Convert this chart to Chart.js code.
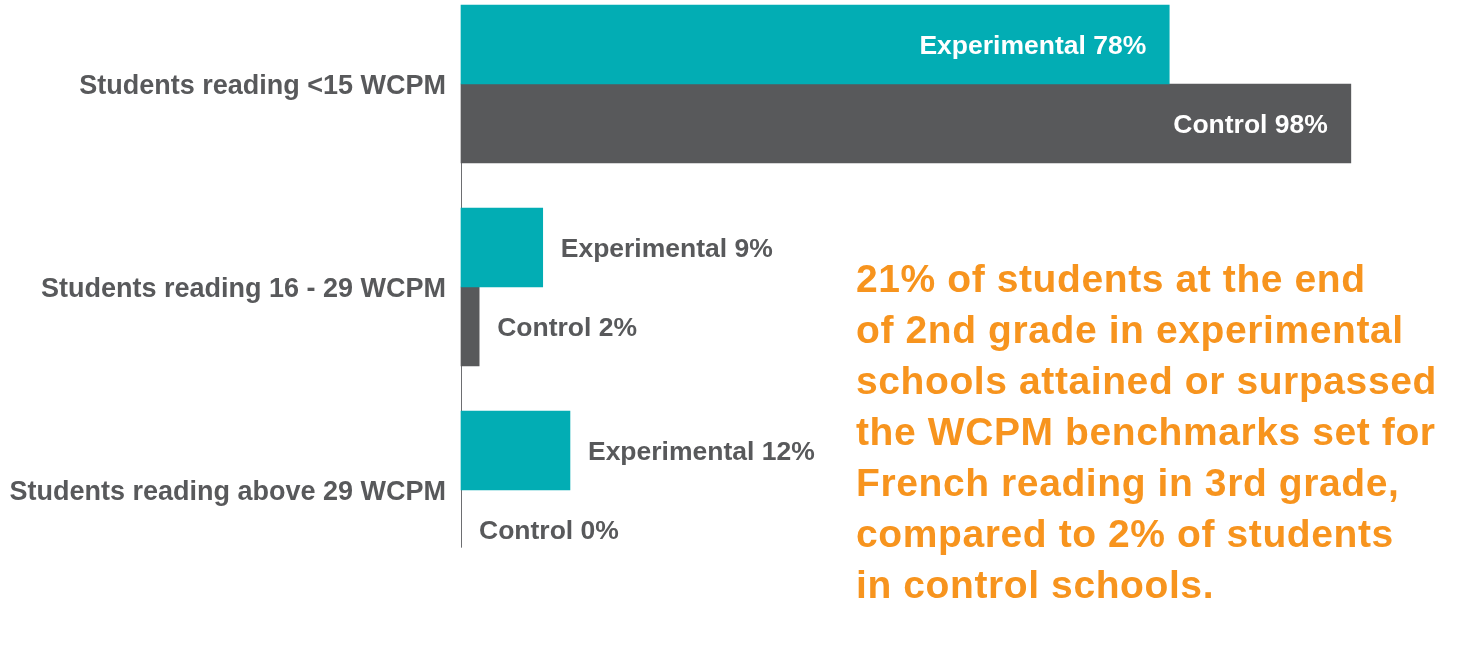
<!DOCTYPE html>
<html>
<head>
<meta charset="utf-8">
<script src="https://cdn.jsdelivr.net/npm/chart.js@4/dist/chart.umd.min.js"></script>
<style>
  html, body { margin:0; padding:0; background:#fff; }
  #wrap { position:relative; width:1460px; height:658px; }
  #note {
    position:absolute; left:856px; top:253px;
    font-family:'Liberation Sans', Arial, sans-serif; font-weight:bold;
    font-size:39px; line-height:51px; letter-spacing:0.6px;
    color:#F7941E; white-space:nowrap;
  }
</style>
</head>
<body>
<div id="wrap">
  <canvas id="chart"></canvas>
  <div id="note">21% of students at the end<br>of 2nd grade in experimental<br>schools attained or surpassed<br>the WCPM benchmarks set for<br>French reading in 3rd grade,<br>compared to 2% of students<br>in control schools.</div>
</div>
<script>
// ── DATA ────────────────────────────────────────────────
const categories   = ['Students reading <15 WCPM', 'Students reading 16 - 29 WCPM', 'Students reading above 29 WCPM'];
const seriesNames  = ['Experimental', 'Control'];
const experimental = [78, 9, 12];
const control      = [98, 2, 0];

const TEAL = '#02ADB4';
const GREY = '#58595B';
const FONT = "'Liberation Sans', Arial, sans-serif";

// zero bars get no fill (avoids the hairline from bar inflation)
const fillFor = color => c => (c.raw === 0 ? 'rgba(0,0,0,0)' : color);

// ── AXIS LINE ───────────────────────────────────────────
const axisLine = {
  id: 'axisLine',
  beforeDatasetsDraw(chart) {
    const { ctx, scales: { x } } = chart;
    const first = chart.getDatasetMeta(0).data[0];
    const last  = chart.getDatasetMeta(1).data[categories.length - 1];
    const x0 = Math.round(x.getPixelForValue(0)) + 0.5;
    ctx.save();
    ctx.strokeStyle = '#6D6E71';
    ctx.lineWidth = 1;
    ctx.beginPath();
    ctx.moveTo(x0, first.y - first.height / 2);
    ctx.lineTo(x0, last.y + last.height * 0.23);
    ctx.stroke();
    ctx.restore();
  }
};

// ── BAR LABELS ──────────────────────────────────────────
const barLabels = {
  id: 'barLabels',
  afterDatasetsDraw(chart) {
    const { ctx } = chart;
    ctx.save();
    ctx.font = `bold 26.5px ${FONT}`;
    ctx.textBaseline = 'middle';
    chart.data.datasets.forEach((ds, di) => {
      chart.getDatasetMeta(di).data.forEach((bar, i) => {
        const v = ds.data[i];
        const txt = `${ds.label} ${v}%`;
        if (v > 50) {
          ctx.fillStyle = '#fff';
          ctx.textAlign = 'right';
          ctx.fillText(txt, bar.x - 23, bar.y + 2);
        } else {
          ctx.fillStyle = GREY;
          ctx.textAlign = 'left';
          ctx.fillText(txt, bar.x + 18, bar.y + 2);
        }
      });
    });
    ctx.restore();
  }
};

// ── CHART ───────────────────────────────────────────────
new Chart(document.getElementById('chart'), {
  type: 'bar',
  data: {
    labels: categories,
    datasets: [
      { label: seriesNames[0], data: experimental, backgroundColor: fillFor(TEAL), barThickness: 79, clip: false },
      { label: seriesNames[1], data: control,      backgroundColor: fillFor(GREY), barThickness: 79, clip: false },
    ]
  },
  options: {
    indexAxis: 'y',
    responsive: true,
    maintainAspectRatio: false,
    animation: false,
    layout: { padding: { top: 84, bottom: 168, left: 0, right: 91 } },
    plugins: { legend: { display: false }, tooltip: { enabled: false } },
    scales: {
      x: { display: false, min: 0, max: 100 },
      y: {
        offset: false,
        grid: { display: false, drawTicks: false },
        border: { display: false },
        ticks: { color: GREY, padding: 15, labelOffset: 3, font: { family: FONT, weight: 'bold', size: 27 } },
        afterFit(scale) { scale.width = 461; }
      }
    }
  },
  plugins: [axisLine, barLabels]
});
</script>
</body>
</html>
